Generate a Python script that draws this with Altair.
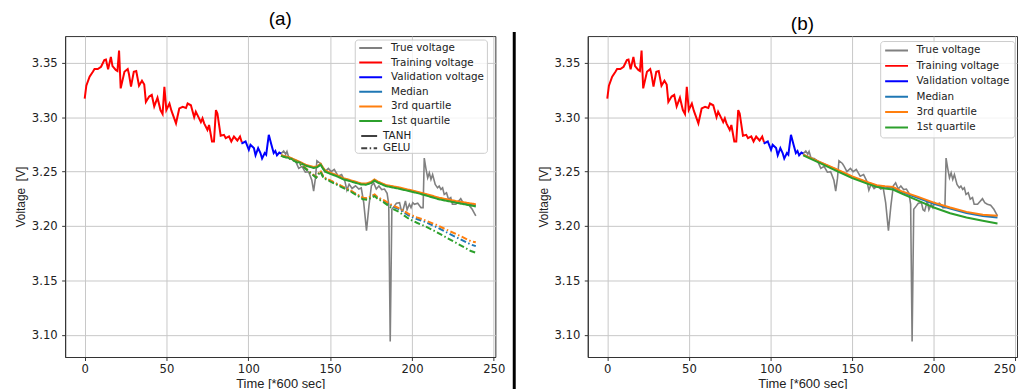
import altair as alt
import pandas as pd

# ---------------- data ----------------
# Training voltage (red)
train_t = [0, 1, 3, 5, 6, 8, 10, 12, 13, 14.3, 16, 17, 19, 20, 21, 22, 24.3, 26.3, 27, 28.3,
           30, 31.5, 33.2, 35, 36.4, 37.4, 39.4, 41, 42.5, 44.5, 46.3, 47.6, 48.7, 49.9, 51.8,
           53, 55.8, 57.8, 59.9, 61.9, 62.9, 64.9, 66.9, 67.9, 69.9, 71, 72, 73, 75, 76, 77.8,
           79, 80.2, 81.1, 83.1, 85.1, 86.2, 88.2, 89.6, 91.2, 93.3, 94.9, 96]
train_v = [3.3170, 3.3290, 3.3372, 3.3418, 3.3443, 3.3443, 3.3464, 3.3525, 3.3530, 3.3440,
           3.3555, 3.3470, 3.3435, 3.3425, 3.3612, 3.3265, 3.3418, 3.3443, 3.3400, 3.3281,
           3.3418, 3.3424, 3.3290, 3.3335, 3.3300, 3.3140, 3.3190, 3.3205, 3.3099, 3.3180,
           3.3066, 3.3030, 3.3280, 3.3066, 3.3126, 3.3060, 3.2944, 3.3081, 3.3096, 3.3085,
           3.3126, 3.3110, 3.3000, 3.3051, 3.2990, 3.2955, 3.2990, 3.2944, 3.2884, 3.2929,
           3.2777, 3.2777, 3.3066, 3.3035, 3.2830, 3.2838, 3.2807, 3.2823, 3.2777, 3.2823,
           3.2786, 3.2823, 3.2770]

# Validation voltage (blue)
val_t = [96, 96.3, 98.3, 100.3, 101.3, 103.4, 104.4, 106, 107.4, 108.4, 110, 110.9, 112.5,
         114.1, 115.5, 116.5, 117.5, 118.9, 120]
val_v = [3.2770, 3.2762, 3.2777, 3.2701, 3.2747, 3.2716, 3.2650, 3.2716, 3.2671, 3.2620,
         3.2671, 3.2656, 3.2838, 3.2747, 3.2671, 3.2690, 3.2650, 3.2675, 3.2665]

# True voltage over the test part (gray)
true_t = [120, 121.6, 122.8, 123.6, 124.8, 126.7, 128.7, 130.8, 132.8, 134.8, 136.8, 138.8,
          139.9, 141, 141.9, 144, 145, 146.8, 148.9, 150.6, 152.5, 154.9, 157, 159, 160.2,
          161.6, 163.4, 165.5, 167.5, 169, 170.5, 172.2, 173.7, 175.2, 176.6, 178.2, 179.8,
          181.5, 183.2, 184.8, 185.8, 186.7, 187.7, 189.3, 190.5, 192.4, 193.4, 194.4, 196,
          197, 198.4, 199.4, 200.5, 201.5, 203.5, 205.5, 206.8, 207.5, 208.5, 209.6, 210.6,
          211.6, 212.6, 214.2, 215.6, 216.6, 217.7, 218.7, 219.7, 221.1, 222.3, 223.7, 224.7,
          226.8, 229.8, 231.2, 232.8, 234.8, 236.8, 237.9, 239]
true_v = [3.2665, 3.2690, 3.2660, 3.2685, 3.2625, 3.2620, 3.2600, 3.2530, 3.2549, 3.2495,
          3.2500, 3.2420, 3.2321, 3.2440, 3.2600, 3.2575, 3.2550, 3.2500, 3.2530, 3.2500,
          3.2520, 3.2458, 3.2473, 3.2412, 3.2330, 3.2385, 3.2345, 3.2370, 3.2340, 3.2350,
          3.2215, 3.1957, 3.2185, 3.2370, 3.2397, 3.2340, 3.2367, 3.2335, 3.2340, 3.2300,
          3.2200, 3.0939, 3.2154, 3.2185, 3.2210, 3.2215, 3.2150, 3.2139, 3.2230, 3.2150,
          3.2200, 3.2169, 3.2215, 3.2200, 3.2210, 3.2169, 3.2169, 3.2625, 3.2530, 3.2443,
          3.2488, 3.2428, 3.2473, 3.2382, 3.2351, 3.2367, 3.2337, 3.2351, 3.2291, 3.2306,
          3.2246, 3.2261, 3.2200, 3.2200, 3.2251, 3.2215, 3.2200, 3.2191, 3.2154, 3.2124,
          3.2094]

# Panel (a) forecasts, TANH (solid)
tanh_t = [120, 125, 131.7, 135, 139.8, 142, 144.2, 145.5, 147, 150, 154, 158, 162, 166, 169,
          172, 175, 177, 179, 184, 192, 202.5, 206.5, 216.6, 226.7, 239]
tanh_q1 = [3.2645, 3.2625, 3.2580, 3.2555, 3.2534, 3.2540, 3.2564, 3.2530, 3.2500, 3.2480,
           3.2458, 3.2430, 3.2413, 3.2395, 3.2382, 3.2380, 3.2395, 3.2418, 3.2400, 3.2367,
           3.2343, 3.2306, 3.2290, 3.2245, 3.2215, 3.2180]
tanh_q3 = [3.2650, 3.2632, 3.2588, 3.2563, 3.2542, 3.2548, 3.2572, 3.2540, 3.2510, 3.2490,
           3.2468, 3.2440, 3.2423, 3.2405, 3.2392, 3.2390, 3.2405, 3.2428, 3.2410, 3.2377,
           3.2355, 3.2318, 3.2303, 3.2260, 3.2230, 3.2200]
tanh_med = [3.2648, 3.2628, 3.2584, 3.2559, 3.2538, 3.2544, 3.2568, 3.2535, 3.2505, 3.2485,
            3.2463, 3.2435, 3.2418, 3.2400, 3.2387, 3.2385, 3.2400, 3.2423, 3.2405, 3.2372,
            3.2349, 3.2312, 3.2297, 3.2253, 3.2223, 3.2190]

# Panel (a) forecasts, GELU (dash-dot)
gelu_t = [120, 126, 131, 134, 137.7, 141.5, 144, 146, 148, 152, 156, 162, 166, 170, 173, 175,
          177.2, 179, 183, 188, 192, 198.4, 203, 208.5, 215, 222.7, 230, 236, 239]
gelu_q1 = [3.2645, 3.2615, 3.2575, 3.2540, 3.2490, 3.2445, 3.2500, 3.2440, 3.2425, 3.2395,
           3.2365, 3.2321, 3.2285, 3.2246, 3.2240, 3.2260, 3.2275, 3.2250, 3.2215, 3.2160,
           3.2130, 3.2063, 3.2030, 3.1995, 3.1945, 3.1880, 3.1820, 3.1770, 3.1755]
gelu_q3 = [3.2650, 3.2620, 3.2580, 3.2545, 3.2495, 3.2450, 3.2510, 3.2450, 3.2435, 3.2405,
           3.2375, 3.2331, 3.2295, 3.2261, 3.2255, 3.2275, 3.2290, 3.2265, 3.2235, 3.2190,
           3.2165, 3.2108, 3.2080, 3.2050, 3.2010, 3.1955, 3.1905, 3.1860, 3.1850]
gelu_med = [3.2648, 3.2618, 3.2578, 3.2543, 3.2493, 3.2448, 3.2506, 3.2446, 3.2431, 3.2401,
            3.2371, 3.2327, 3.2291, 3.2256, 3.2250, 3.2270, 3.2285, 3.2260, 3.2230, 3.2180,
            3.2155, 3.2093, 3.2065, 3.2035, 3.1990, 3.1930, 3.1875, 3.1830, 3.1815]

# Panel (b) forecasts
b_t = [120, 130, 140, 150, 160, 165, 170, 175, 180, 190, 200, 210, 220, 230, 239]
b_q3 = [3.2656, 3.2590, 3.2525, 3.2455, 3.2400, 3.2375, 3.2365, 3.2360, 3.2321, 3.2270,
        3.2215, 3.2170, 3.2130, 3.2103, 3.2094]
b_med = [3.2656, 3.2588, 3.2520, 3.2450, 3.2395, 3.2370, 3.2360, 3.2355, 3.2315, 3.2260,
         3.2205, 3.2160, 3.2120, 3.2092, 3.2078]
b_q1 = [3.2650, 3.2580, 3.2510, 3.2440, 3.2385, 3.2360, 3.2345, 3.2335, 3.2300, 3.2235,
        3.2170, 3.2118, 3.2078, 3.2048, 3.2024]

series_names = ["True voltage", "Training voltage", "Validation voltage",
                "Median", "3rd quartile", "1st quartile"]
series_colors = ["#808080", "#ff0000", "#0000ff", "#1f77b4", "#ff7f0e", "#2ca02c"]
act_names = ["TANH", "GELU"]

x_ticks = [0, 50, 100, 150, 200, 250]
y_ticks = [3.10, 3.15, 3.20, 3.25, 3.30, 3.35]

# ---------------- tables ----------------
def tbl(ts, vs, name, act=None):
    d = pd.DataFrame({"t": ts, "v": vs, "series": name})
    if act is not None:
        d["act"] = act
    return d

obs = pd.concat([tbl(train_t, train_v, "Training voltage"),
                 tbl(val_t, val_v, "Validation voltage")])
tru = tbl(true_t, true_v, "True voltage")
fc_a = pd.concat([
    tbl(tanh_t, tanh_med, "Median", "TANH"), tbl(tanh_t, tanh_q3, "3rd quartile", "TANH"),
    tbl(tanh_t, tanh_q1, "1st quartile", "TANH"),
    tbl(gelu_t, gelu_med, "Median", "GELU"), tbl(gelu_t, gelu_q3, "3rd quartile", "GELU"),
    tbl(gelu_t, gelu_q1, "1st quartile", "GELU")])
fc_b = pd.concat([tbl(b_t, b_med, "Median"), tbl(b_t, b_q3, "3rd quartile"),
                  tbl(b_t, b_q1, "1st quartile")])
one = pd.DataFrame({"k": [0]})

# ---------------- encodings ----------------
xscale = alt.Scale(domain=[-11.95, 250.95], nice=False, zero=False)
X_A = alt.X("t:Q", scale=xscale,
            axis=alt.Axis(values=x_ticks, title="Time [*600 sec]", labelPadding=3,
                          titlePadding=2, titleFontWeight="normal"))
# right panel: keep the last tick label inside the page
X_B = alt.X("t:Q", scale=xscale,
            axis=alt.Axis(values=x_ticks, title="Time [*600 sec]", labelPadding=3,
                          titlePadding=2, titleFontWeight="normal",
                          labelAlign={"condition": {"test": "datum.value >= 250",
                                                    "value": "right"},
                                      "value": "center"}))
Y = alt.Y("v:Q", scale=alt.Scale(domain=[3.0796, 3.3746], nice=False, zero=False),
          axis=alt.Axis(values=y_ticks, format=".2f", title="Voltage\u00a0 [V]",
                        labelPadding=4.5, titlePadding=4, titleFontSize=12,
                        titleFontWeight="normal"))
cscale = alt.Scale(domain=series_names, range=series_colors)
dscale = alt.Scale(domain=act_names, range=[[1, 0], [6, 2.5, 1.5, 2.5]])

W_A, W_B, H = 433, 432, 323


def color_enc(legend):
    return alt.Color("series:N", scale=cscale, legend=legend, sort=series_names)


leg_a = alt.Legend(orient="none", legendX=295, legendY=6.5, title=None, symbolType="stroke",
                   symbolStrokeWidth=2, symbolSize=529, labelFont="DejaVu Sans",
                   labelFontSize=10.4, labelColor="#222222", labelOffset=8, clipHeight=11,
                   rowPadding=3.7, padding=0)
leg_dash = alt.Legend(orient="none", legendX=297, legendY=95, title=None,
                      symbolType="stroke", symbolStrokeColor="#404040", symbolStrokeWidth=2,
                      symbolSize=256, labelFont="DejaVu Sans", labelFontSize=10.4,
                      labelColor="#222222", labelOffset=5, clipHeight=11, rowPadding=1.5,
                      padding=0)
leg_b = alt.Legend(orient="none", legendX=294.3, legendY=5, title=None, symbolType="stroke",
                   symbolStrokeWidth=2, symbolSize=529, labelFont="DejaVu Sans",
                   labelFontSize=10.4, labelColor="#222222", labelOffset=7.6, clipHeight=11,
                   rowPadding=4.5, padding=4, strokeColor="#cccccc",
                   fillColor="rgba(255,255,255,0.8)", cornerRadius=3)


def base_layers(X, leg):
    l_true = alt.Chart(tru).mark_line(strokeWidth=1.6).encode(x=X, y=Y, color=color_enc(leg))
    l_obs = alt.Chart(obs).mark_line(strokeWidth=2).encode(x=X, y=Y, color=color_enc(leg))
    return [l_true, l_obs]


title_kw = dict(font="Liberation Sans", fontSize=19, fontWeight="normal", color="black",
                anchor="middle", frame="group", offset=2)

# panel (a)
fa = alt.Chart(fc_a).mark_line(strokeWidth=2).encode(
    x=X_A, y=Y, color=color_enc(leg_a),
    strokeDash=alt.StrokeDash("act:N", scale=dscale, legend=leg_dash, sort=act_names))
frame_a = alt.Chart(one).mark_rect(fill="white", fillOpacity=0.8, stroke="#cccccc",
                                   strokeWidth=1, cornerRadius=3).encode(
    x=alt.value(292), x2=alt.value(425), y=alt.value(4), y2=alt.value(118))
divider = alt.Chart(one).mark_rule(color="black", strokeWidth=3).encode(
    x=alt.value(452), y=alt.value(-4), y2=alt.value(360))

panel_a = alt.layer(*base_layers(X_A, leg_a), fa, frame_a, divider).properties(
    width=W_A, height=H, title=alt.TitleParams("(a)", **title_kw))

# panel (b)
fb = alt.Chart(fc_b).mark_line(strokeWidth=2).encode(x=X_B, y=Y, color=color_enc(leg_b))
panel_b = alt.layer(*base_layers(X_B, leg_b), fb).properties(
    width=W_B, height=H, title=alt.TitleParams("(b)", **title_kw))

chart = alt.hconcat(panel_a, panel_b, spacing=20).resolve_scale(
    color="independent", strokeDash="independent", x="independent", y="independent"
).resolve_legend(color="independent", strokeDash="independent").properties(
    padding={"left": 5.5, "top": 0, "right": 0, "bottom": 0}
).configure(background="white").configure_view(
    stroke="#333333", strokeWidth=1
).configure_axis(
    labelFont="DejaVu Sans", labelFontSize=11.7, labelColor="#222222",
    titleFont="Liberation Sans", titleFontSize=13, titleFontWeight="normal",
    titleColor="#222222", grid=True, gridColor="#c8c8c8", gridWidth=1,
    domainColor="#333333", tickColor="#333333", tickSize=3.5
)

chart.save("out.html", embed_options={"renderer": "svg", "actions": False})
